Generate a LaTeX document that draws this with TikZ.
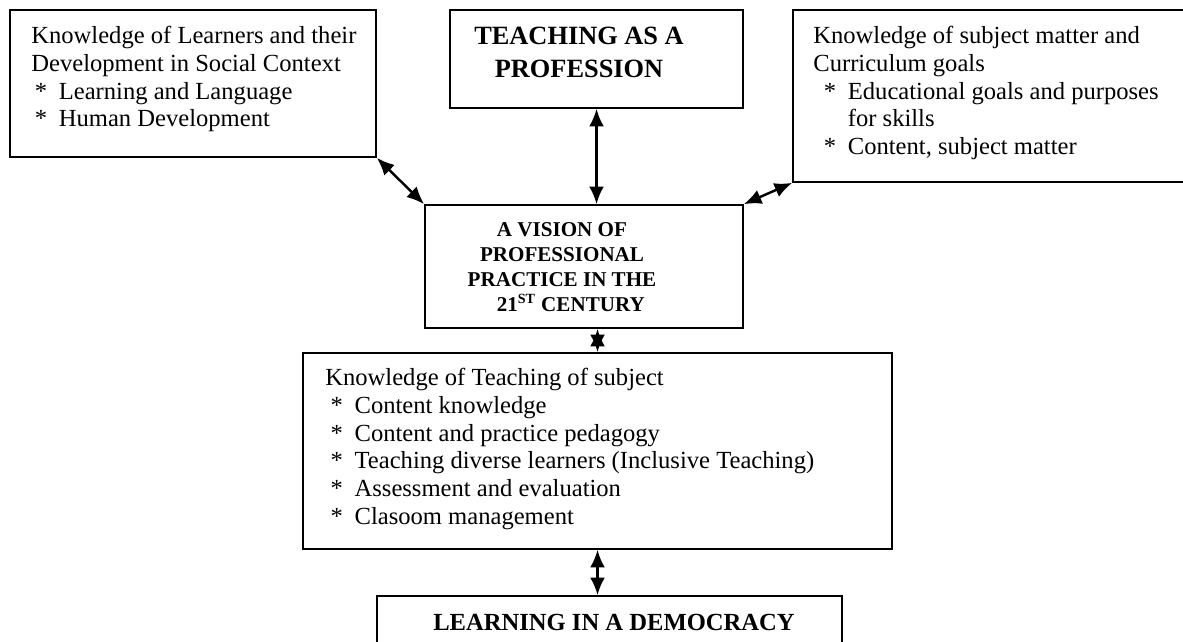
\documentclass[tikz,border=0pt]{standalone}
\usepackage{fontspec}
\setmainfont{Liberation Serif}
\usetikzlibrary{arrows.meta}

\tikzset{
  box/.style={draw=black, line width=1pt, rectangle, inner sep=0pt},
  boxtext/.style={align=left, inner sep=0pt, anchor=north west, font=\fontsize{14}{15.8}\selectfont},
  link/.style={{Latex[length=10pt,width=8.5pt]}-{Latex[length=10pt,width=8.5pt]}, line width=1.4pt},
}
\newcommand{\itm}{\makebox[0.48cm][l]{*}}

\begin{document}
\begin{tikzpicture}[x=0.02cm, y=-0.02cm]
\useasboundingbox (0,0) rectangle (1183,642);
\clip (0,0) rectangle (1183,642);

% boxes
\node[box, minimum width=7.32cm, minimum height=2.94cm] (learners) at (193,83.5) {};
\node[box, minimum width=5.86cm, minimum height=1.96cm] (profession) at (596.5,59) {};
\node[box, minimum width=8.04cm, minimum height=3.44cm] (subject) at (994,96) {};
\node[box, minimum width=6.36cm, minimum height=2.46cm] (vision) at (584,266.5) {};
\node[box, minimum width=11.78cm, minimum height=3.92cm] (teaching) at (597.5,451) {};
\node[box, minimum width=9.3cm, minimum height=1.88cm] (democracy) at (609.5,643) {};

% texts
\node[boxtext] (learnerstxt) at (31,26) {Knowledge of Learners and their\\
Development in Social Context\\
\hspace*{2pt}\itm Learning and Language\\
\hspace*{2pt}\itm Human Development};

\node[boxtext, align=center, anchor=north, font=\fontsize{15}{18.8}\selectfont\bfseries] (professiontxt) at (579,27)
  {TEACHING AS A\\PROFESSION};

\node[boxtext] (subjecttxt) at (813,26) {Knowledge of subject matter and\\
Curriculum goals\\
\hspace*{6pt}\itm Educational goals and purposes\\
\hspace*{6pt}\hspace*{0.48cm}for skills\\
\hspace*{6pt}\itm Content, subject matter};

\node[boxtext, align=center, anchor=north, font=\fontsize{12}{14.2}\selectfont\bfseries] (visiontxt) at (562,222)
  {A VISION OF\\PROFESSIONAL\\PRACTICE IN THE\\\hspace*{10pt}21\textsuperscript{ST} CENTURY};

\node[boxtext] (teachingtxt) at (325,368) {Knowledge of Teaching of subject\\
\hspace*{3pt}\itm Content knowledge\\
\hspace*{3pt}\itm Content and practice pedagogy\\
\hspace*{3pt}\itm Teaching diverse learners (Inclusive Teaching)\\
\hspace*{3pt}\itm Assessment and evaluation\\
\hspace*{3pt}\itm Clasoom management};

\node[boxtext, anchor=base, font=\fontsize{14}{16}\selectfont\bfseries] (democracytxt) at (614,630)
  {LEARNING IN A DEMOCRACY};

% connectors
\draw[link] (learners.south east) -- (vision.north west);
\draw[link] (profession.south) -- (profession.south |- vision.north);
\draw[link] (subject.south west) -- (vision.north east);
\draw[link] (teaching.north |- vision.south) -- (teaching.north);
\draw[link] (teaching.south) -- (teaching.south |- democracy.north);
\end{tikzpicture}
\end{document}
